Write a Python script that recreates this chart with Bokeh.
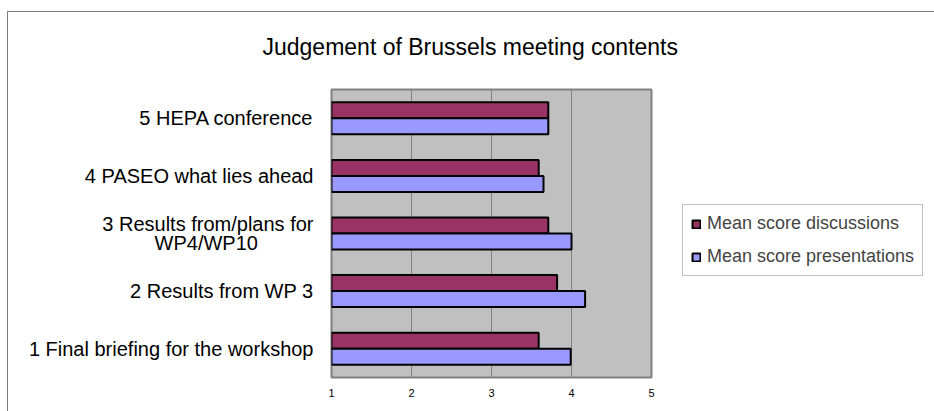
from bokeh.plotting import figure
from bokeh.models import (ColumnDataSource, Legend, LegendItem,
                          Range1d, FactorRange, FixedTicker, CustomJSTickFormatter)
from bokeh.transform import dodge
from bokeh.embed import file_html
from bokeh.resources import INLINE

# ---- data ----
title_text = "Judgement of Brussels meeting contents"
categories = [
    "1 Final briefing for the workshop",
    "2 Results from WP 3",
    "3 Results from/plans for\nWP4/WP10",
    "4 PASEO what lies ahead",
    "5 HEPA conference",
]
discussions = [3.59, 3.82, 3.71, 3.59, 3.71]
presentations = [3.99, 4.17, 4.00, 3.65, 3.71]
series_names = ["Mean score discussions", "Mean score presentations"]
x_ticks = [1, 2, 3, 4, 5]

# ---- styles ----
FONT = "Liberation Sans"
DISC_COLOR = "#993366"
PRES_COLOR = "#9999FF"
PLOT_BG = "#C0C0C0"
GRID = "#808080"
BAR_H = 0.278

src = ColumnDataSource(dict(cat=categories, disc=discussions, pres=presentations))

p = figure(
    width=934, height=411,
    frame_width=320, frame_height=288,
    min_border_left=331, min_border_right=283,
    min_border_top=89, min_border_bottom=34,
    x_range=Range1d(x_ticks[0], x_ticks[-1]),
    y_range=FactorRange(factors=categories),
    output_backend="svg", toolbar_location=None,
    title=title_text,
)
p.background_fill_color = PLOT_BG
p.border_fill_color = None
p.outline_line_color = GRID
p.outline_line_width = 2
# outer chart-area frame lines (top and left) drawn behind the transparent canvas border
p.styles = {
    "background": ("linear-gradient(#808080,#808080) 7px 11px / 927px 1px no-repeat, "
                   "linear-gradient(#808080,#808080) 7px 11px / 1px 400px no-repeat, white"),
}

p.title.text_font = FONT
p.title.text_font_size = "23px"
p.title.text_font_style = "normal"
p.title.text_color = "black"
p.title.align = "left"
p.title.offset = -69
p.title.vertical_align = "bottom"
p.title.standoff = 60

r_disc = p.hbar(y=dodge("cat", BAR_H / 2, range=p.y_range), left=x_ticks[0], right="disc",
                height=BAR_H, fill_color=DISC_COLOR, line_color="black", line_width=2,
                source=src)
r_pres = p.hbar(y=dodge("cat", -BAR_H / 2, range=p.y_range), left=x_ticks[0], right="pres",
                height=BAR_H, fill_color=PRES_COLOR, line_color="black", line_width=2,
                source=src)

# axes / grid
p.ygrid.grid_line_color = None
p.yaxis.axis_line_color = None
p.yaxis.major_tick_line_color = None
p.yaxis.major_tick_out = 0
p.yaxis.major_label_standoff = 18
p.yaxis.major_label_text_font = FONT
p.yaxis.major_label_text_font_size = "20px"
p.yaxis.major_label_text_color = "black"
p.yaxis.major_label_text_line_height = 0.9
# centre the second line of a wrapped label under the first (no-break-space padding)
p.yaxis.formatter = CustomJSTickFormatter(code="""
    const parts = String(tick).split("\\n");
    if (parts.length < 2) { return String(tick); }
    return parts[0] + "\\n" + parts[1] + "\\u00a0".repeat(10) + "\\u200b";
""")

p.xaxis.ticker = FixedTicker(ticks=x_ticks)
p.xgrid.ticker = FixedTicker(ticks=x_ticks)
p.xgrid.grid_line_color = GRID
p.xgrid.grid_line_width = 1
p.xaxis.axis_line_color = None
p.xaxis.major_tick_line_color = None
p.xaxis.minor_tick_line_color = None
p.xaxis.major_tick_out = 0
p.xaxis.major_label_standoff = 11
p.xaxis.major_label_text_font = FONT
p.xaxis.major_label_text_font_size = "11px"
p.xaxis.major_label_text_color = "black"

legend = Legend(
    items=[LegendItem(label=series_names[0], renderers=[r_disc]),
           LegendItem(label=series_names[1], renderers=[r_pres])],
    location=(31, 101),
    label_text_font=FONT, label_text_font_size="18px",
    glyph_width=10, glyph_height=10, label_standoff=6,
    padding=8, spacing=12, margin=0,
    border_line_color=GRID, border_line_width=1,
    background_fill_color="white", background_fill_alpha=1,
)
p.add_layout(legend, "right")

open("out.html", "w").write(file_html(p, INLINE))
